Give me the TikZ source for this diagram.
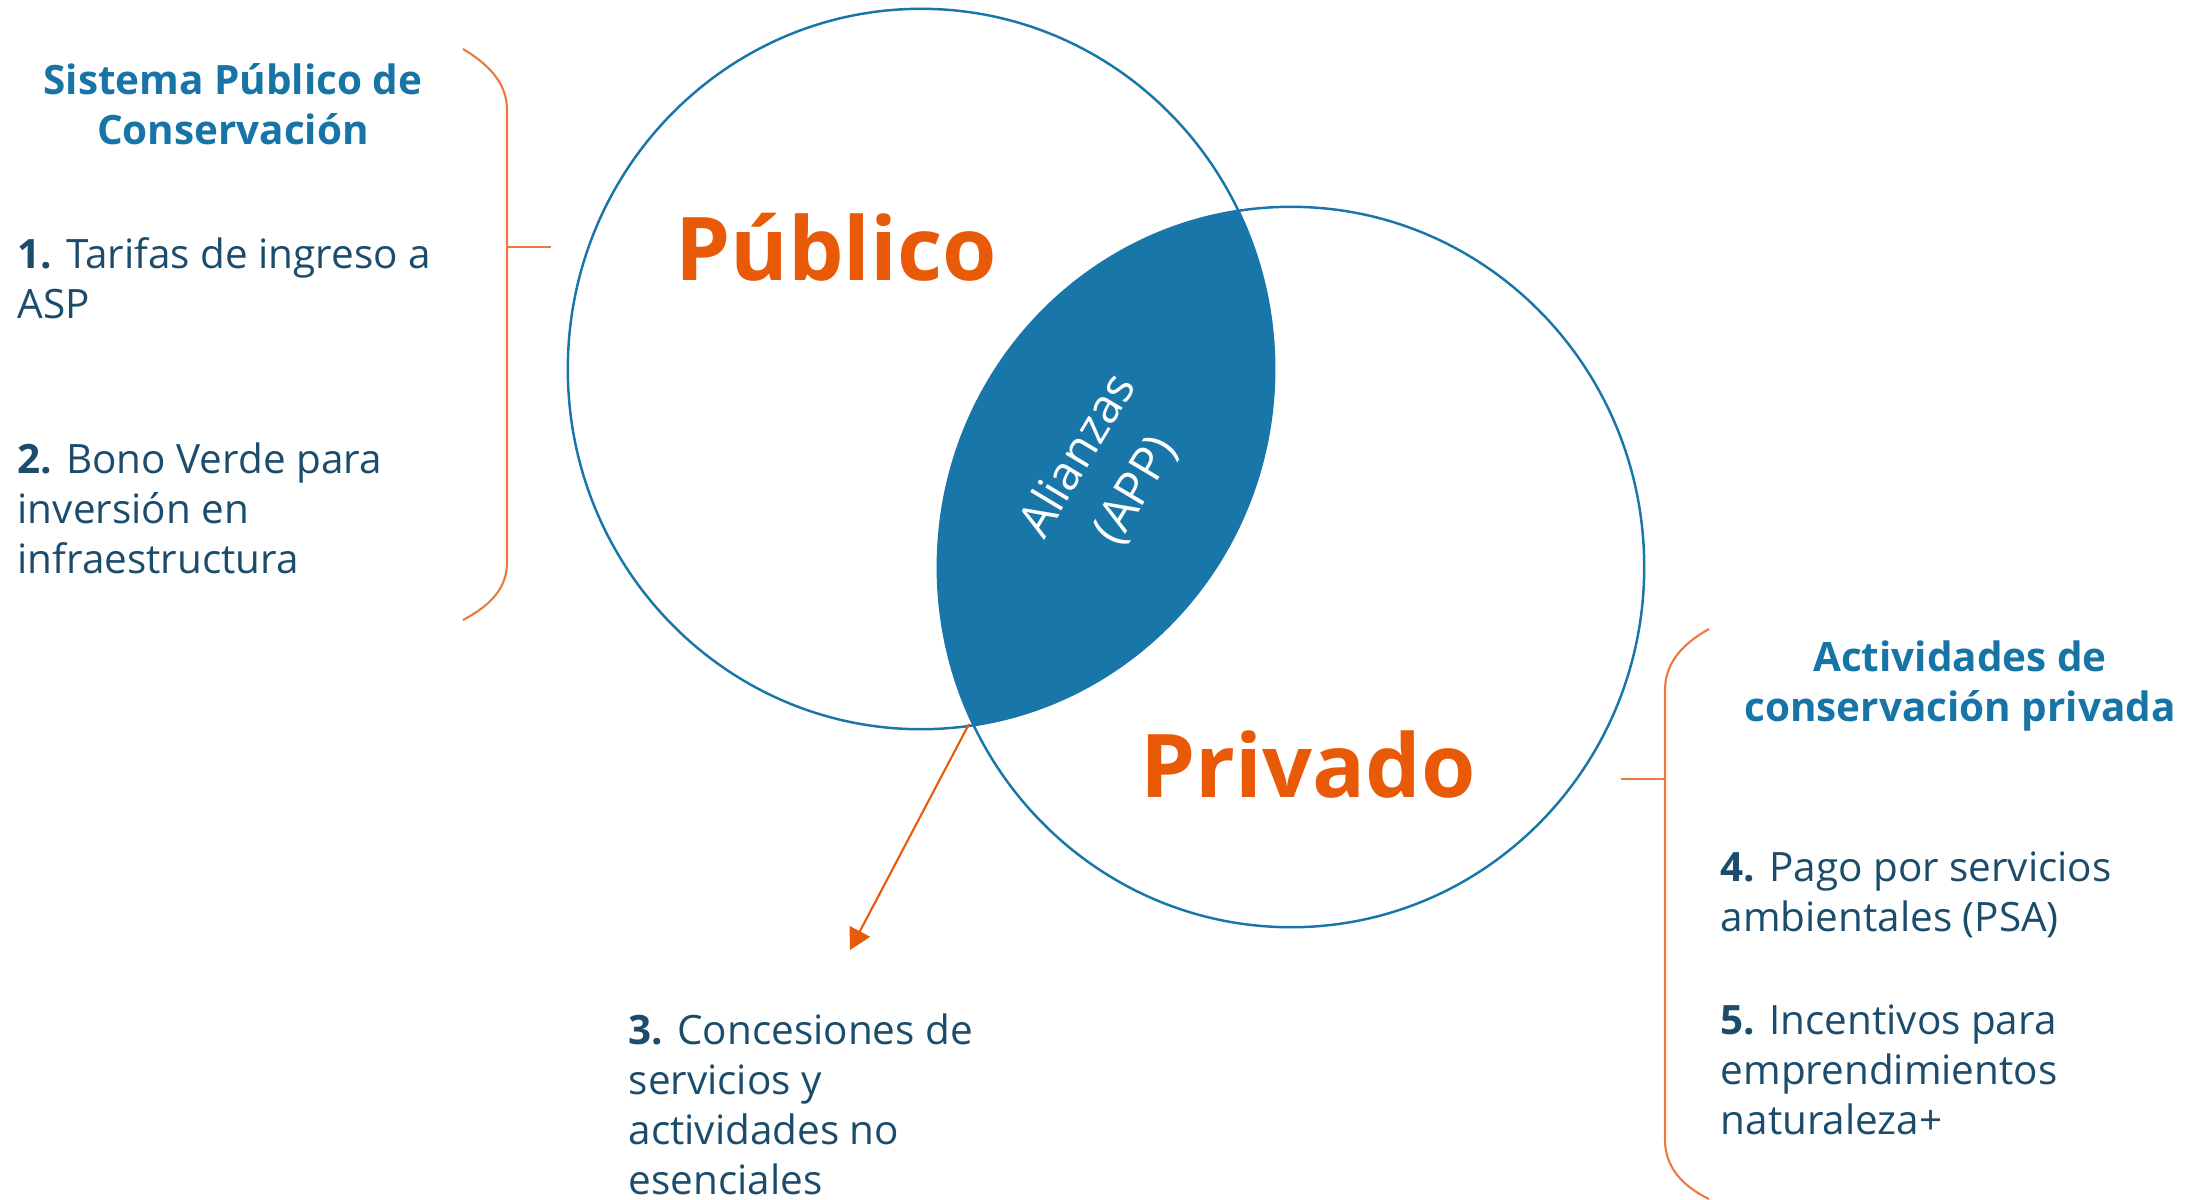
\documentclass[tikz,border=0pt]{standalone}
\usepackage{fontspec}
\setmainfont{Open Sans}
\usetikzlibrary{arrows.meta}
\definecolor{cblue}{RGB}{24,119,168}
\definecolor{corange}{RGB}{232,90,8}
\definecolor{cbrack}{RGB}{236,122,62}
\definecolor{ctitle}{RGB}{22,116,166}
\definecolor{ctext}{RGB}{27,76,108}
\begin{document}
\begin{tikzpicture}[x=0.01cm,y=-0.01cm,
  body/.style={font=\fontsize{11.5}{14.2}\selectfont, text=ctext, align=left, anchor=base west, inner sep=0pt},
  head/.style={font=\fontsize{11.5}{14.2}\selectfont\bfseries, text=ctitle, align=center, anchor=base, inner sep=0pt},
  big/.style={font=\fontsize{25}{30}\selectfont\bfseries, text=corange, anchor=base, inner sep=0pt},
  ring/.style={draw=cblue, line width=0.7pt},
  bracket/.style={draw=cbrack, line width=0.6pt},
  pointer/.style={draw=corange, line width=0.6pt, -{Triangle[length=6pt,width=6.5pt]}},
]
\useasboundingbox (0,0) rectangle (2192,1199);
\coordinate (c1) at (921,369);
\coordinate (c2) at (1291,567);
% lens
\begin{scope}
  \clip (c1) ellipse[x radius=3.53cm, y radius=3.60cm];
  \fill[cblue] (c2) ellipse[x radius=3.53cm, y radius=3.60cm];
\end{scope}
\draw[ring] (c1) ellipse[x radius=3.53cm, y radius=3.60cm];
\draw[ring] (c2) ellipse[x radius=3.53cm, y radius=3.60cm];
\node[rotate=59, text=white, font=\fontsize{13.5}{19}\selectfont, align=center, inner sep=0pt] (app) at (1107,473) {Alianzas\\(APP)};

\node[big] (pub) at (836,280) {Público};
\node[big] (priv) at (1308,797) {Privado};

% left panel (anchor = baseline of last line)
\node[head] (lt) at (233,144) {Sistema Público de\\Conservación};
\node[body] (l1) at (17,318) {\textbf{1.} Tarifas de ingreso a\\ASP};
\node[body] (l2) at (17,573) {\textbf{2.} Bono Verde para\\inversión en\\infraestructura};
\draw[bracket] (463,49) .. controls (495,68) and (507,88) .. (507,110) -- (507,562) .. controls (507,585) and (495,603) .. (463,620);
\coordinate (ltickA) at (507,247);
\coordinate (ltickB) at (551,247);
\draw[bracket] (ltickA) -- (ltickB);

% right panel
\node[head] (rt) at (1960,721) {Actividades de\\conservación privada};
\node[body] (r4) at (1720,931) {\textbf{4.} Pago por servicios\\ambientales (PSA)};
\node[body] (r5) at (1720,1134) {\textbf{5.} Incentivos para\\emprendimientos\\naturaleza+};
\draw[bracket] (1709,629) .. controls (1680,645) and (1665,665) .. (1665,690) -- (1665,1140) .. controls (1665,1165) and (1680,1185) .. (1709,1199);
\coordinate (rtickA) at (1621,779);
\coordinate (rtickB) at (1665,779);
\draw[bracket] (rtickA) -- (rtickB);

% bottom
\node[body] (b3) at (628,1194) {\textbf{3.} Concesiones de\\servicios y\\actividades no\\esenciales};
\coordinate (tipB) at (969,724);
\coordinate (arrEnd) at (850,950);
\draw[pointer] (tipB) -- (arrEnd);
\end{tikzpicture}
\end{document}
